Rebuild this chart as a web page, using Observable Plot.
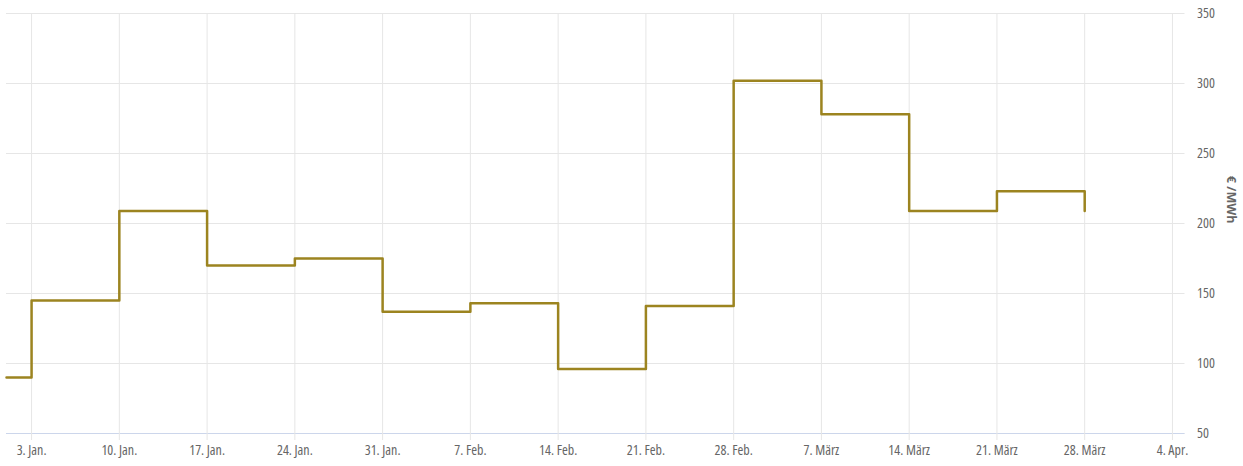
<!DOCTYPE html>
<html>
<head>
<meta charset="utf-8">
<script src="https://cdn.jsdelivr.net/npm/d3@7"></script>
<script src="https://cdn.jsdelivr.net/npm/@observablehq/plot@0.6"></script>
<style>
  html, body { margin: 0; padding: 0; background: #fff; }
  #chart svg { display: block; }
  #chart svg text { font-stretch: condensed; }
</style>
</head>
<body>
<div id="chart"></div>
<script>
const dates = ["2022-01-01","2022-01-03","2022-01-10","2022-01-17","2022-01-24","2022-01-31","2022-02-07","2022-02-14","2022-02-21","2022-02-28","2022-03-07","2022-03-14","2022-03-21","2022-03-28"];
const values = [90,145,209,170,175,137,143,96,141,302,278,209,223,209];
const tickDates = ["2022-01-03","2022-01-10","2022-01-17","2022-01-24","2022-01-31","2022-02-07","2022-02-14","2022-02-21","2022-02-28","2022-03-07","2022-03-14","2022-03-21","2022-03-28","2022-04-04"];
const tickLabels = ["3. Jan.","10. Jan.","17. Jan.","24. Jan.","31. Jan.","7. Feb.","14. Feb.","21. Feb.","28. Feb.","7. März","14. März","21. März","28. März","4. Apr."];
const yTicks = [50,100,150,200,250,300,350];
const yTitle = "€ /MWh";

const data = dates.map((d, i) => ({date: new Date(d + "T00:00:00Z"), value: values[i]}));
const xt = tickDates.map(d => new Date(d + "T00:00:00Z"));
const labelOf = new Map(xt.map((d, i) => [+d, tickLabels[i]]));

const font = "'Open Sans', sans-serif";

const chart = Plot.plot({
  width: 1243,
  height: 466,
  marginLeft: 6,
  marginRight: 58.5,
  marginTop: 13,
  marginBottom: 33,
  style: {fontFamily: font, fontSize: "14px", background: "#fff", color: "#666"},
  x: {type: "utc", domain: [new Date("2022-01-01T00:00:00Z"), new Date("2022-04-05T00:00:00Z")]},
  y: {domain: [50, 350]},
  marks: [
    Plot.gridY(yTicks, {stroke: "#e6e6e6", strokeOpacity: 1}),
    Plot.gridX(xt, {stroke: "#e6e6e6", strokeOpacity: 1}),
    Plot.ruleY([50], {stroke: "#ccd6eb", strokeWidth: 1}),
    Plot.axisX(xt, {tickSize: 7, stroke: "#e6e6e6", strokeOpacity: 1, fill: "#666", tickPadding: 5, tickFormat: d => labelOf.get(+d), label: null}),
    Plot.axisY(yTicks, {anchor: "right", tickSize: 0, tickPadding: 12, fill: "#666", textAnchor: "start", label: null}),
    Plot.text([yTitle], {frameAnchor: "right", dx: 46, rotate: 90, fill: "#666", fontWeight: "bold", fontSize: 12.5, fontFamily: "'Open Sans', sans-serif"}),
    Plot.line(data, {x: "date", y: "value", curve: "step-after", stroke: "#9c8420", strokeWidth: 2.5})
  ]
});
d3.select(chart).selectAll("text").filter(function() { return this.textContent === yTitle; }).style("font-stretch", "normal");
document.getElementById("chart").append(chart);
</script>
</body>
</html>
